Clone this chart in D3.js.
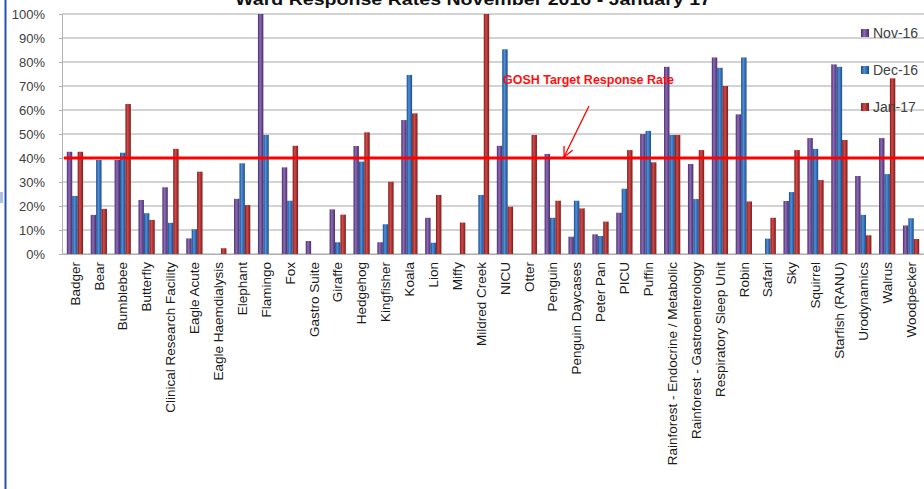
<!DOCTYPE html>
<html>
<head>
  <title>Ward Response Rates</title>
  <script src="https://d3js.org/d3.v7.min.js"></script>
  <style>
    body { margin: 0; background: #fff; }
    text { font-family: "Liberation Sans", Arial, sans-serif; }
  </style>
</head>
<body>
<svg width="924" height="489"></svg>
<script>
  const wards = ["Badger", "Bear", "Bumblebee", "Butterfly", "Clinical Research Facility",
    "Eagle Acute", "Eagle Haemdialysis", "Elephant", "Flamingo", "Fox", "Gastro Suite",
    "Giraffe", "Hedgehog", "Kingfisher", "Koala", "Lion", "Miffy", "Mildred Creek", "NICU",
    "Otter", "Penguin", "Penguin Daycases", "Peter Pan", "PICU", "Puffin",
    "Rainforest - Endocrine / Metabolic", "Rainforest - Gastroenterology",
    "Respiratory Sleep Unit", "Robin", "Safari", "Sky", "Squirrel", "Starfish (RANU)",
    "Urodynamics", "Walrus", "Woodpecker"];

  const months = ["Nov-16", "Dec-16", "Jan-17"];

  // response rates in %
  const nov16 = [42.6, 16.3, 39.2, 22.5, 27.8, 6.5, 0, 23, 100, 36.1, 5.4, 18.6, 45, 4.9, 55.8, 15.1, 0, 0, 45.1,
    0, 41.7, 7.2, 8.2, 17.2, 50, 78, 37.5, 81.9, 58.2, 0, 22.1, 48.3, 79, 32.5, 48.3, 11.9];
  const dec16 = [24.2, 39.2, 42.2, 17, 13, 10.3, 0, 37.8, 49.6, 22.2, 0, 4.9, 38.5, 12.4, 74.6, 4.7, 0, 24.6, 85.3,
    0, 15.1, 22.2, 7.5, 27.2, 51.3, 49.6, 22.9, 77.6, 81.9, 6.4, 25.8, 43.8, 78, 16.3, 33.3, 14.9];
  const jan17 = [42.6, 18.8, 62.5, 14.2, 43.8, 34.3, 2.4, 20.4, 0, 45.1, 0, 16.4, 50.7, 30.1, 58.6, 24.6, 13.1, 100, 19.7,
    49.6, 22.2, 19, 13.5, 43.3, 38.2, 49.6, 43.3, 70, 21.9, 15.1, 43.3, 30.8, 47.5, 7.8, 73.2, 6.25];

  const yTicks = [0, 10, 20, 30, 40, 50, 60, 70, 80, 90, 100];
  const target = 40;

  const series = [nov16, dec16, jan17];
  const colors = [
    { id: "gNov", edge: "#4a2b6d", mid: "#8b6bb3" },
    { id: "gDec", edge: "#1b4a86", mid: "#4f90dc" },
    { id: "gJan", edge: "#7a1a1a", mid: "#d24a48" }
  ];

  const svg = d3.select("svg");

  const defs = svg.append("defs");
  colors.forEach(c => {
    const g = defs.append("linearGradient").attr("id", c.id)
      .attr("x1", "0").attr("x2", "1").attr("y1", "0").attr("y2", "0");
    g.append("stop").attr("offset", "0%").attr("stop-color", c.edge);
    g.append("stop").attr("offset", "40%").attr("stop-color", c.mid);
    g.append("stop").attr("offset", "100%").attr("stop-color", c.edge);
  });

  // frame bits on the left
  svg.append("rect").attr("x", 4.5).attr("y", 0).attr("width", 2).attr("height", 489).attr("fill", "#2450b0");
  svg.append("rect").attr("x", 0).attr("y", 192).attr("width", 3).attr("height", 11).attr("fill", "#aac0e6");

  const x0 = d3.scaleBand().domain(wards).range([63, 923]).paddingInner(0.32).paddingOuter(0.16);
  const x1 = d3.scaleBand().domain(months).range([0, x0.bandwidth()]);
  const y = d3.scaleLinear().domain([0, 100]).range([254, 14]);

  // gridlines
  svg.append("g").selectAll("line").data(yTicks).enter().append("line")
    .attr("x1", 62).attr("x2", 924)
    .attr("y1", d => y(d)).attr("y2", d => y(d))
    .attr("stroke", "#c4c4c4").attr("stroke-width", 1.5);

  // y axis
  const yAxis = svg.append("g").attr("transform", "translate(62,0)")
    .call(d3.axisLeft(y).tickValues(yTicks).tickFormat(d => d + "%").tickSize(3).tickPadding(14));
  yAxis.select(".domain").attr("stroke", "#b0b0b0");
  yAxis.selectAll(".tick line").attr("stroke", "#b0b0b0");
  yAxis.selectAll("text").attr("font-size", 13).attr("fill", "#404040")
    .attr("font-family", "'Liberation Sans', Arial, sans-serif");

  // bars
  const groups = svg.append("g").selectAll("g").data(wards).enter().append("g")
    .attr("transform", d => `translate(${x0(d)},0)`);
  groups.selectAll("rect")
    .data((d, i) => months.map((m, k) => ({ m, k, v: series[k][i] })))
    .enter().append("rect")
    .attr("x", d => x1(d.m))
    .attr("width", x1.bandwidth())
    .attr("y", d => y(d.v))
    .attr("height", d => y(0) - y(d.v))
    .attr("fill", d => `url(#${colors[d.k].id})`);

  // x axis labels
  const xAxis = svg.append("g").attr("transform", `translate(0,${y(0)})`)
    .call(d3.axisBottom(x0).tickSize(0).tickPadding(0));
  xAxis.select(".domain").attr("stroke", "#b0b0b0");
  xAxis.selectAll("text")
    .attr("transform", "rotate(-90)")
    .attr("text-anchor", "end")
    .attr("x", -8).attr("y", 0).attr("dy", "0.35em")
    .attr("font-size", 13.5).attr("fill", "#1a1a1a")
    .attr("font-family", "'Liberation Sans', Arial, sans-serif");

  // target line
  svg.append("line")
    .attr("x1", 64).attr("x2", 924)
    .attr("y1", y(target)).attr("y2", y(target))
    .attr("stroke", "#ff0000").attr("stroke-width", 3);

  svg.append("text")
    .attr("x", 503).attr("y", 84)
    .attr("font-size", 12).attr("font-weight", "bold").attr("fill", "#ff1010")
    .attr("textLength", 171).attr("lengthAdjust", "spacingAndGlyphs")
    .text("GOSH Target Response Rate");

  // arrow
  const ax1 = 589, ay1 = 106, ax2 = 564, ay2 = y(target) - 1;
  const ang = Math.atan2(ay2 - ay1, ax2 - ax1);
  svg.append("line").attr("x1", ax1).attr("y1", ay1).attr("x2", ax2).attr("y2", ay2)
    .attr("stroke", "#ff0000").attr("stroke-width", 1.3);
  [ang + Math.PI - 0.45, ang + Math.PI + 0.45].forEach(a => {
    svg.append("line").attr("x1", ax2).attr("y1", ay2)
      .attr("x2", ax2 + 11 * Math.cos(a)).attr("y2", ay2 + 11 * Math.sin(a))
      .attr("stroke", "#ff0000").attr("stroke-width", 1.3);
  });

  // title (cut off at the top, as in the original)
  svg.append("text")
    .attr("x", 235).attr("y", 5)
    .attr("font-size", 17).attr("font-weight", "bold").attr("fill", "#111")
    .attr("textLength", 476).attr("lengthAdjust", "spacingAndGlyphs")
    .text("Ward Response Rates  November 2016 - January 17");

  // legend
  const legend = svg.append("g").selectAll("g").data(months).enter().append("g")
    .attr("transform", (d, i) => `translate(861,${33 + i * 37})`);
  legend.append("rect").attr("x", 0).attr("y", -4).attr("width", 8).attr("height", 8)
    .attr("fill", (d, i) => `url(#${colors[i].id})`);
  legend.append("text").attr("x", 12).attr("y", 0).attr("dy", "0.35em")
    .attr("font-size", 14).attr("fill", "#404040")
    .text(d => d);
</script>
</body>
</html>
